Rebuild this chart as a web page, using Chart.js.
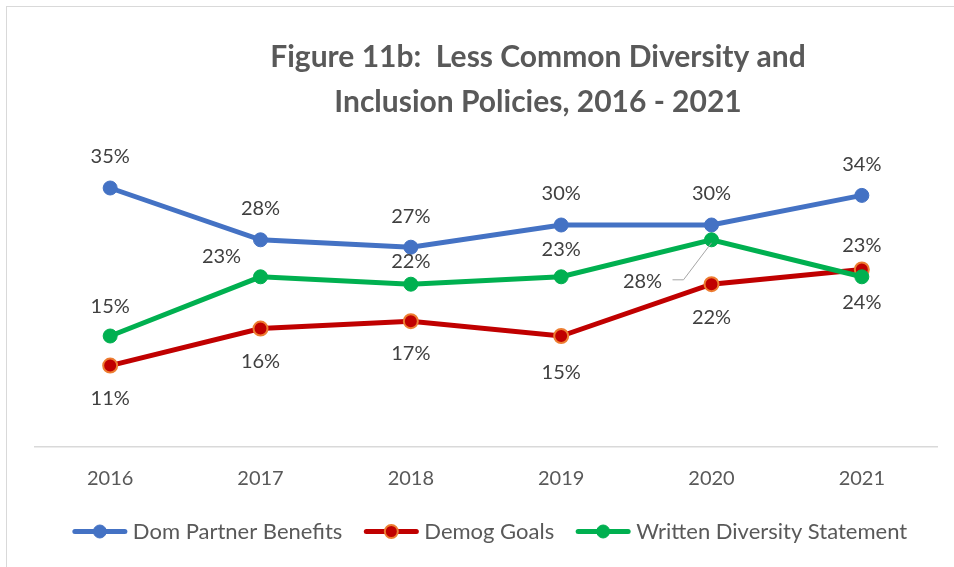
<!DOCTYPE html>
<html>
<head>
<meta charset="utf-8">
<script src="https://cdn.jsdelivr.net/npm/chart.js@4/dist/chart.umd.min.js"></script>
<style>
  html, body { margin: 0; padding: 0; background: #ffffff; }
  #wrap { width: 954px; height: 567px; position: relative; }
</style>
</head>
<body>
<div id="wrap"><canvas id="c" width="954" height="567"></canvas></div>
<script>
// ---- data ----
const years = ['2016', '2017', '2018', '2019', '2020', '2021'];
const domPartner = [35, 28, 27, 30, 30, 34];
const demogGoals = [11, 16, 17, 15, 22, 24];
const writtenStatement = [15, 23, 22, 23, 28, 23];
const seriesNames = ['Dom Partner Benefits', 'Demog Goals', 'Written Diversity Statement'];
const titleLines = ['Figure 11b:  Less Common Diversity and', 'Inclusion Policies, 2016 - 2021'];

// ---- styling ----
const BLUE = '#4472C4', RED = '#C00000', ORANGE = '#ED7D31', GREEN = '#00B050';
const FONT = 'Lato, "Open Sans", sans-serif';

// label offsets (dx, dy) from each point, per series
const labelPlacement = [
  [[0, -31], [0, -31], [0, -31], [0, -31], [0, -31], [0, -31]],
  [[0, 33], [0, 33], [0, 32], [0, 37], [0, 33], [0, 33]],
  [[0, -29], [-39, -20], [0, -23], [0, -27], [-69, 42], [0, -31]]
];
// labels connected to their point by a leader line: [series, index]
const leaderLabels = [[2, 4]];

const framePlugin = {
  id: 'frame',
  beforeDraw(chart) {
    const ctx = chart.ctx;
    ctx.save();
    ctx.fillStyle = '#ffffff';
    ctx.fillRect(0, 0, chart.width, chart.height);
    ctx.strokeStyle = '#d9d9d9';
    ctx.lineWidth = 1;
    ctx.strokeRect(6.5, 6.5, 1200, 1200);
    ctx.restore();
  }
};

const titlePlugin = {
  id: 'bigTitle',
  afterDraw(chart) {
    const ctx = chart.ctx;
    ctx.save();
    ctx.font = 'bold 30px ' + FONT;
    ctx.fillStyle = '#595959';
    ctx.textAlign = 'center';
    ctx.textBaseline = 'middle';
    ctx.fillText(titleLines[0], 538, 57);
    ctx.fillText(titleLines[1], 538, 102);
    ctx.restore();
  }
};

const valueLabelPlugin = {
  id: 'valueLabels',
  afterDatasetsDraw(chart) {
    const ctx = chart.ctx;
    ctx.save();
    ctx.font = '20px ' + FONT;
    ctx.fillStyle = '#404040';
    ctx.textAlign = 'center';
    ctx.textBaseline = 'middle';
    chart.data.datasets.forEach((ds, di) => {
      const meta = chart.getDatasetMeta(di);
      meta.data.forEach((pt, i) => {
        const [dx, dy] = labelPlacement[di][i];
        const lx = pt.x + dx, ly = pt.y + dy;
        ctx.fillText(ds.data[i] + '%', lx, ly);
        if (leaderLabels.some(([s, k]) => s === di && k === i)) {
          ctx.save();
          ctx.strokeStyle = '#a6a6a6';
          ctx.lineWidth = 1;
          ctx.beginPath();
          ctx.moveTo(lx + 30, ly - 2);
          ctx.lineTo(lx + 41, ly - 2);
          ctx.lineTo(pt.x, pt.y + 3);
          ctx.stroke();
          ctx.restore();
        }
      });
    });
    ctx.restore();
  }
};

const legendPlugin = {
  id: 'lineLegend',
  afterDraw(chart) {
    const ctx = chart.ctx;
    const items = chart.data.datasets;
    ctx.save();
    ctx.font = '22px ' + FONT;
    const sample = 56, gapText = 5, gapItem = 21;
    const widths = items.map(d => ctx.measureText(d.label).width);
    const total = widths.reduce((a, w) => a + sample + gapText + w, 0) + gapItem * (items.length - 1);
    let x = 489.5 - total / 2;
    const y = 531.5;
    items.forEach((d, i) => {
      ctx.strokeStyle = d.borderColor;
      ctx.lineWidth = 5;
      ctx.lineCap = 'round';
      ctx.beginPath();
      ctx.moveTo(x + 3, y);
      ctx.lineTo(x + sample - 3, y);
      ctx.stroke();
      ctx.beginPath();
      ctx.arc(x + sample / 2, y, 6.5, 0, Math.PI * 2);
      ctx.fillStyle = d.pointBackgroundColor;
      ctx.fill();
      ctx.lineWidth = d.pointBorderWidth;
      ctx.strokeStyle = d.pointBorderColor;
      ctx.stroke();
      ctx.fillStyle = '#595959';
      ctx.textAlign = 'left';
      ctx.textBaseline = 'middle';
      ctx.fillText(d.label, x + sample + gapText, y);
      x += sample + gapText + widths[i] + gapItem;
    });
    ctx.restore();
  }
};

function lineSeries(label, data, color, fill, border, bw, order) {
  return {
    label, data, order,
    borderColor: color,
    borderWidth: 5,
    tension: 0,
    fill: false,
    pointRadius: 7,
    pointHoverRadius: 7,
    pointBackgroundColor: fill,
    pointBorderColor: border,
    pointBorderWidth: bw
  };
}

new Chart(document.getElementById('c'), {
  type: 'line',
  data: {
    labels: years,
    datasets: [
      lineSeries(seriesNames[0], domPartner, BLUE, BLUE, BLUE, 1, 2),
      lineSeries(seriesNames[1], demogGoals, RED, RED, ORANGE, 2, 1),
      lineSeries(seriesNames[2], writtenStatement, GREEN, GREEN, GREEN, 1, 0)
    ]
  },
  options: {
    responsive: false,
    animation: false,
    devicePixelRatio: 1,
    layout: { padding: { left: 35, right: 17, top: 151, bottom: 0 } },
    plugins: { legend: { display: false }, title: { display: false }, tooltip: { enabled: false } },
    scales: {
      x: {
        offset: true,
        grid: { display: false, drawTicks: false },
        border: { display: true, color: '#d9d9d9', width: 1.5 },
        ticks: { color: '#595959', font: { family: FONT, size: 20 }, padding: 20 },
        afterFit(scale) { scale.height = 120; }
      },
      y: { display: false, min: 0, max: 40 }
    }
  },
  plugins: [framePlugin, valueLabelPlugin, titlePlugin, legendPlugin]
});
</script>
</body>
</html>
